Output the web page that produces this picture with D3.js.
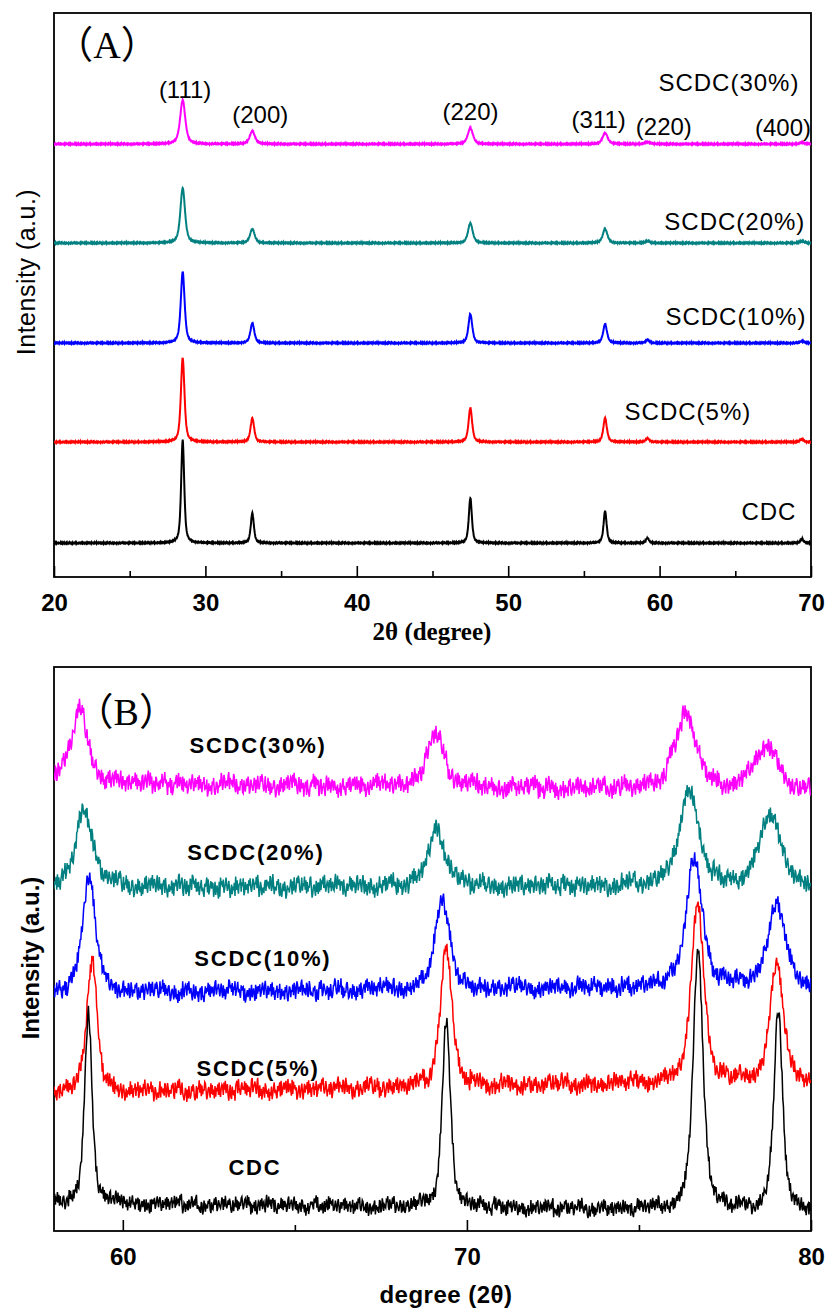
<!DOCTYPE html>
<html>
<head>
<meta charset="utf-8">
<script src="https://cdnjs.cloudflare.com/ajax/libs/d3/7.8.5/d3.min.js"></script>
<style>
  body { margin: 0; background: #fff; }
  svg { display: block; }
  text { font-family: Arial, 'Liberation Sans', sans-serif; fill: #000; }
</style>
</head>
<body>
<svg id="chart" width="829" height="1309"></svg>
<script>
(function (d3) {
  'use strict';

  // samples, bottom trace first
  const sampleNames = ['CDC', 'SCDC(5%)', 'SCDC(10%)', 'SCDC(20%)', 'SCDC(30%)'];
  const sampleColors = ['#000000', '#ff0000', '#0000ff', '#008080', '#ff00ff'];

  // ---- panel (A): 2theta 20..70 ----
  const peakPosA = [28.5, 33.1, 47.5, 56.4, 59.2, 69.4];
  const peakNamesA = ['(111)', '(200)', '(220)', '(311)', '(220)', '(400)'];
  const peakNameXA = [28.66, 33.62, 47.51, 55.98, 60.28, 68.15];
  const peakNameYA = [487, 462, 465, 457, 450, 449];
  const baseA = [34, 135, 234, 334, 433];
  const heightA = [
    [103, 30, 45, 32, 5, 4],
    [84, 24, 34, 24, 4, 3],
    [71, 20, 29, 19, 3, 2],
    [55, 14, 20, 14, 2, 2],
    [44, 13, 16, 11, 2, 1.5]
  ];
  const widthA = [0.12, 0.14, 0.15, 0.18, 0.2];
  const nameXA = [67.22, 61.87, 65.04, 64.97, 64.58];
  const nameYA = [65, 165, 260, 355, 494];

  // ---- panel (B): 2theta 58..80 ----
  const peakPosB = [
    [59.0, 69.4, 76.72, 79.05],
    [59.1, 69.4, 76.7, 79.0],
    [59.02, 69.28, 76.6, 79.0],
    [58.88, 69.12, 76.45, 78.8],
    [58.74, 69.08, 76.35, 78.68]
  ];
  const heightB = [
    [188, 188, 262, 200],
    [132, 140, 178, 118],
    [120, 90, 128, 86],
    [78, 57, 92, 72],
    [72, 54, 74, 44]
  ];
  const widthB = [
    [0.13, 0.14, 0.17, 0.15],
    [0.18, 0.2, 0.22, 0.22],
    [0.22, 0.25, 0.28, 0.28],
    [0.3, 0.3, 0.35, 0.35],
    [0.3, 0.3, 0.38, 0.4]
  ];
  const bgB = [[28, 20], [138, 150], [238, 245], [344, 345], [448, 440]];
  const noiseAmpB = [7, 8, 8, 8.5, 8.5];
  const nameXB = [63.84, 63.93, 64.07, 63.87, 63.93];
  const nameYB = [64, 163, 273, 379, 486];

  // counter noise, typed once and shared (offset per trace)
  const noiseDigits =
    '38154927061438950267419382507164829305761849267305921843605781942057' +
    '36492817365028914573069418260375198462705381469352074691802573681492' +
    '57309184637025841695037264819273055816490273461859203761548297038614' +
    '5279064351870296154386920731584960275314860729413859720';

  const ticksMajorA = [20, 30, 40, 50, 60, 70];
  const ticksMinorA = [25, 35, 45, 55, 65];
  const ticksMajorB = [60, 70, 80];
  const ticksMinorB = [65, 75];

  const svg = d3.select('#chart');

  const xA = d3.scaleLinear().domain([20, 70]).range([54, 811]);
  const yA = d3.scaleLinear().domain([0, 564]).range([577, 13]);
  const xB = d3.scaleLinear().domain([58, 80]).range([54, 811]);
  const yB = d3.scaleLinear().domain([0, 564]).range([1231, 667]);

  const profile = (x, p, h, w) => {
    const t = (x - p) / w;
    return h * (0.6 / (1 + t * t) + 0.4 * Math.exp(-Math.LN2 * t * t));
  };
  const noiseAt = (i, k) => {
    const d = +noiseDigits[(i + k * 53) % noiseDigits.length];
    return (d - 4.5) / 4.5;
  };

  const traceA = k => d3.range(20, 70.001, 0.02).map((x, i) => {
    let y = baseA[k] + noiseAt(i, k) * 0.5;
    peakPosA.forEach((p, j) => { y += profile(x, p, heightA[k][j], widthA[k]); });
    return [x, y];
  });

  const traceB = k => d3.range(58, 80.001, 0.02).map((x, i) => {
    let y = bgB[k][0] + (bgB[k][1] - bgB[k][0]) * (x - 58) / 22;
    y += noiseAt(i, k) * noiseAmpB[k] + noiseAt(Math.floor(i / 11), k + 2) * noiseAmpB[k] * 0.45;
    peakPosB[k].forEach((p, j) => { y += profile(x, p, heightB[k][j], widthB[k][j]); });
    return [x, y];
  });

  const drawAxis = (x, y, major, minor, clipId) => {
    const y0 = y.range()[0];
    const y1 = y.range()[1];
    const [x0, x1] = x.range();

    svg.append('defs').append('clipPath')
        .attr('id', clipId)
      .append('rect')
        .attr('x', x0).attr('y', y1)
        .attr('width', x1 - x0).attr('height', y0 - y1);

    const minorG = svg.append('g')
        .attr('transform', `translate(0,${y0})`)
        .call(d3.axisBottom(x).tickValues(minor).tickSize(-6).tickFormat(''));
    minorG.select('.domain').remove();

    const majorG = svg.append('g')
        .attr('transform', `translate(0,${y0})`)
        .call(d3.axisBottom(x).tickValues(major).tickSize(-11).tickPadding(17));
    majorG.select('.domain').remove();
    majorG.selectAll('text')
        .style('font-size', '24px')
        .style('font-weight', 'bold');

    [minorG, majorG].forEach(g => g.selectAll('line').attr('stroke', '#000').attr('stroke-width', 1.6));

    svg.append('rect')
        .attr('x', x0).attr('y', y1)
        .attr('width', x1 - x0).attr('height', y0 - y1)
        .attr('fill', 'none')
        .attr('stroke', '#000')
        .attr('stroke-width', 1.8);
  };

  // ---- panel (A) ----
  drawAxis(xA, yA, ticksMajorA, ticksMinorA, 'clipA');

  const lineA = d3.line().x(d => xA(d[0])).y(d => yA(d[1]));
  svg.append('g')
      .attr('clip-path', 'url(#clipA)')
    .selectAll('path')
    .data(d3.range(sampleNames.length).reverse())
    .enter().append('path')
      .attr('d', k => lineA(traceA(k)))
      .attr('fill', 'none')
      .attr('stroke', k => sampleColors[k])
      .attr('stroke-width', 2);

  svg.append('g').selectAll('text')
    .data(peakNamesA)
    .enter().append('text')
      .attr('x', (d, i) => xA(peakNameXA[i]))
      .attr('y', (d, i) => yA(peakNameYA[i]))
      .attr('dy', '0.35em')
      .attr('text-anchor', 'middle')
      .style('font-size', '24px')
      .text(d => d);

  svg.append('g').selectAll('text')
    .data(sampleNames)
    .enter().append('text')
      .attr('x', (d, i) => xA(nameXA[i]))
      .attr('y', (d, i) => yA(nameYA[i]))
      .attr('dy', '0.35em')
      .attr('text-anchor', 'middle')
      .style('font-size', '24px')
      .style('letter-spacing', '1px')
      .text(d => d);

  svg.append('text')
      .attr('x', xA(23.5))
      .attr('y', yA(532))
      .attr('dy', '0.35em')
      .attr('text-anchor', 'middle')
      .style('font-family', "'Liberation Serif', 'Noto Sans CJK SC', serif")
      .style('font-size', '38px')
      .text('\uff08A\uff09');

  svg.append('text')
      .attr('x', 432)
      .attr('y', 631)
      .attr('dy', '0.35em')
      .attr('text-anchor', 'middle')
      .style('font-family', "'Times New Roman', 'Liberation Serif', serif")
      .style('font-weight', 'bold')
      .style('font-size', '25px')
      .text('2\u03b8 (degree)');

  svg.append('text')
      .attr('transform', 'translate(26,272) rotate(-90)')
      .attr('dy', '0.35em')
      .attr('text-anchor', 'middle')
      .style('font-size', '25px')
      .style('letter-spacing', '0.5px')
      .text('Intensity (a.u.)');

  // ---- panel (B) ----
  drawAxis(xB, yB, ticksMajorB, ticksMinorB, 'clipB');

  const lineB = d3.line().x(d => xB(d[0])).y(d => yB(d[1]));
  svg.append('g')
      .attr('clip-path', 'url(#clipB)')
    .selectAll('path')
    .data(d3.range(sampleNames.length).reverse())
    .enter().append('path')
      .attr('d', k => lineB(traceB(k)))
      .attr('fill', 'none')
      .attr('stroke', k => sampleColors[k])
      .attr('stroke-width', 1.5);

  svg.append('g').selectAll('text')
    .data(sampleNames)
    .enter().append('text')
      .attr('x', (d, i) => xB(nameXB[i]))
      .attr('y', (d, i) => yB(nameYB[i]))
      .attr('dy', '0.35em')
      .attr('text-anchor', 'middle')
      .style('font-size', '22px')
      .style('font-weight', 'bold')
      .style('letter-spacing', '1.8px')
      .text(d => d);

  svg.append('text')
      .attr('x', xB(60.1))
      .attr('y', yB(519))
      .attr('dy', '0.35em')
      .attr('text-anchor', 'middle')
      .style('font-family', "'Liberation Serif', 'Noto Sans CJK SC', serif")
      .style('font-size', '38px')
      .text('\uff08B\uff09');

  svg.append('text')
      .attr('x', 446)
      .attr('y', 1295)
      .attr('dy', '0.35em')
      .attr('text-anchor', 'middle')
      .style('font-weight', 'bold')
      .style('font-size', '24px')
      .style('letter-spacing', '0.5px')
      .text('degree (2\u03b8)');

  svg.append('text')
      .attr('transform', 'translate(31,958) rotate(-90)')
      .attr('dy', '0.35em')
      .attr('text-anchor', 'middle')
      .style('font-weight', 'bold')
      .style('font-size', '24px')
      .text('Intensity (a.u.)');

}(d3));
</script>
</body>
</html>
